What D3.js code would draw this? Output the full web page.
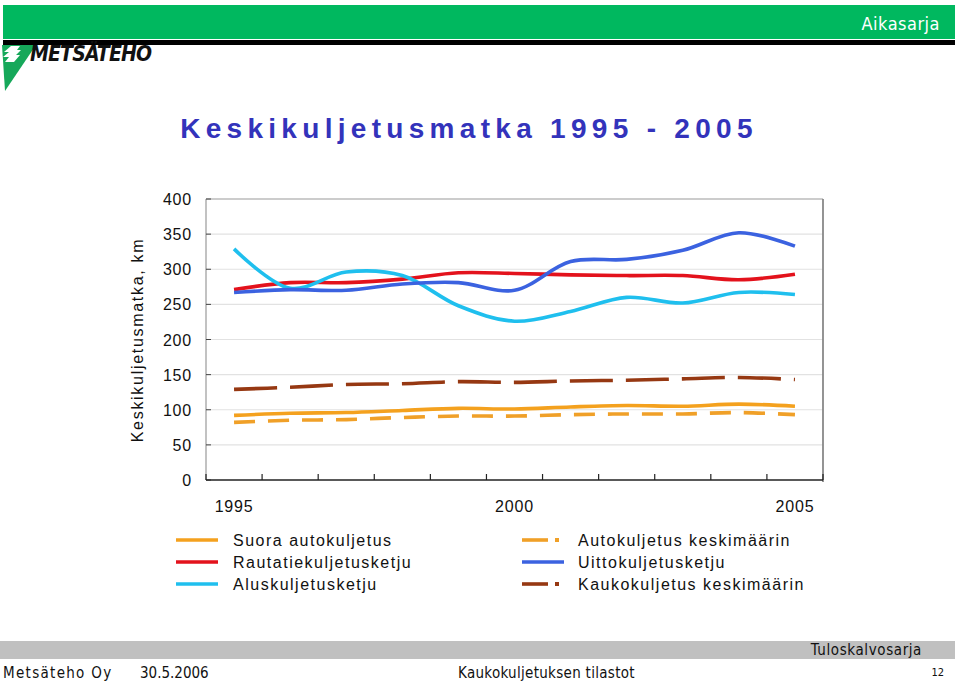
<!DOCTYPE html>
<html><head><meta charset="utf-8">
<script src="https://cdn.jsdelivr.net/npm/d3@7"></script>
<style>body{margin:0;background:#fff}svg{display:block}</style>
</head><body>
<svg id="c" width="959" height="681"></svg>
<script>
const years = ["1995","1996","1997","1998","1999","2000","2001","2002","2003","2004","2005"];
const suora    = [92, 95, 96, 99, 102, 101, 104, 106, 105, 108, 105];
const rautatie = [271, 281, 281, 286, 295, 294, 292, 291, 291, 285, 293];
const alus     = [329, 273, 296, 291, 248, 226, 240, 260, 252, 267, 264];
const autoKa   = [82, 85, 86, 89, 91, 91, 93, 94, 94, 96, 93];
const uitto    = [267, 271, 270, 279, 281, 270, 311, 314, 327, 352, 333];
const kaukoKa  = [129, 132, 136, 137, 140, 139, 141, 142, 144, 146, 143];
const yTicks = [0, 50, 100, 150, 200, 250, 300, 350, 400];
const xLabels = ["1995", "2000", "2005"];
const seriesNames = ["Suora autokuljetus","Rautatiekuljetusketju","Aluskuljetusketju",
                     "Autokuljetus keskimäärin","Uittokuljetusketju","Kaukokuljetus keskimäärin"];

const series = [
  {name: seriesNames[0], values: suora,    color: "#f4a11e", dash: null},
  {name: seriesNames[1], values: rautatie, color: "#e3121c", dash: null},
  {name: seriesNames[2], values: alus,     color: "#1fbfee", dash: null},
  {name: seriesNames[3], values: autoKa,   color: "#f0a028", dash: "21,13"},
  {name: seriesNames[4], values: uitto,    color: "#3b62e0", dash: null},
  {name: seriesNames[5], values: kaukoKa,  color: "#963812", dash: "43,13"}
];

const svg = d3.select("#c");
const narrow = "'Liberation Sans Narrow','DejaVu Sans Condensed','Liberation Sans',Arial,sans-serif";
const sans = "'Liberation Sans',Arial,sans-serif";

// Header
svg.append("rect").attr("x",3).attr("y",5).attr("width",952).attr("height",34).attr("fill","#00b85f");
svg.append("rect").attr("x",3).attr("y",40).attr("width",952).attr("height",5).attr("fill","#000");
svg.append("text").attr("x",940).attr("y",30).attr("text-anchor","end")
  .attr("font-family",narrow).attr("font-size",18).attr("letter-spacing",0.5).attr("fill","#fff").text("Aikasarja");

// Logo
svg.append("path").attr("d","M2,45 L36,45 L5,91 Z").attr("fill","#16a85a");
svg.append("path").attr("d","M11,46 L4,52 L9,52 L3,57 L9,57 L5,62 L14,62 L20,55 L16,55 L21,50 L17,50 L20,46 Z").attr("fill","#fff");
svg.append("text").attr("x",30).attr("y",61)
  .attr("font-family",narrow).attr("font-size",21).attr("font-weight","bold").attr("font-style","italic")
  .attr("letter-spacing",-0.8).attr("fill","#111").text("METSÄTEHO");

// Title
svg.append("text").attr("x",469).attr("y",138).attr("text-anchor","middle")
  .attr("font-family",sans).attr("font-size",28).attr("font-weight","bold").attr("letter-spacing",5.3)
  .attr("fill","#3333bb").text("Keskikuljetusmatka 1995 - 2005");

// Scales
const x = d3.scaleBand().domain(years).range([206, 823]).padding(0);
const y = d3.scaleLinear().domain([0, 400]).range([480, 199]);
const cx = d => x(d) + x.bandwidth()/2;

// Gridlines
svg.append("g").selectAll("line").data(yTicks.filter(t => t > 0 && t < 400)).join("line")
  .attr("x1",206).attr("x2",823).attr("y1",d=>y(d)).attr("y2",d=>y(d))
  .attr("stroke","#e2e2e2").attr("stroke-width",1.2);

// Frame
svg.append("line").attr("x1",206).attr("x2",823).attr("y1",y(400)).attr("y2",y(400)).attr("stroke","#999").attr("stroke-width",1.2);
svg.append("line").attr("x1",823).attr("x2",823).attr("y1",y(400)).attr("y2",y(0)+2).attr("stroke","#888").attr("stroke-width",1.8);
svg.append("line").attr("x1",206).attr("x2",206).attr("y1",y(400)).attr("y2",y(0)).attr("stroke","#999").attr("stroke-width",1.2);

// Y axis ticks & labels
svg.append("g").selectAll("line").data(yTicks).join("line")
  .attr("x1",206).attr("x2",211).attr("y1",d=>y(d)).attr("y2",d=>y(d)).attr("stroke","#444").attr("stroke-width",1);
svg.append("g").selectAll("text").data(yTicks).join("text")
  .attr("x",192).attr("y",d=>y(d)+6).attr("text-anchor","end")
  .attr("font-family",sans).attr("font-size",16).attr("letter-spacing",0.8).attr("fill","#111").text(d=>d);

// X axis
svg.append("line").attr("x1",206).attr("x2",823).attr("y1",y(0)).attr("y2",y(0)).attr("stroke","#222").attr("stroke-width",1.6);
const edges = years.map(d => x(d)).concat([x(years[years.length-1]) + x.bandwidth()]);
svg.append("g").selectAll("line").data(edges).join("line")
  .attr("x1",d=>d).attr("x2",d=>d).attr("y1",y(0)).attr("y2",y(0)-6).attr("stroke","#222").attr("stroke-width",1.2);
svg.append("g").selectAll("text").data(xLabels).join("text")
  .attr("x",d=>cx(d)).attr("y",512).attr("text-anchor","middle")
  .attr("font-family",sans).attr("font-size",16).attr("letter-spacing",0.8).attr("fill","#111").text(d=>d);

// Y axis title
svg.append("text").attr("transform","translate(143,340) rotate(-90)").attr("text-anchor","middle")
  .attr("font-family",sans).attr("font-size",16).attr("letter-spacing",1.7).attr("fill","#111")
  .text("Keskikuljetusmatka, km");

// Lines
const line = d3.line().x((v,i)=>cx(years[i])).y(v=>y(v)).curve(d3.curveCatmullRom.alpha(0.5));
svg.append("g").selectAll("path").data(series).join("path")
  .attr("d",s=>line(s.values)).attr("fill","none").attr("stroke",s=>s.color)
  .attr("stroke-width",3.6).attr("stroke-dasharray",s=>s.dash);

// Legend
const leg = svg.append("g");
series.forEach((s,i)=>{
  const col = Math.floor(i/3), row = i%3;
  const lx = col === 0 ? 176 : 522;
  const ly = 540 + row*22;
  if (s.dash) {
    leg.append("line").attr("x1",lx).attr("x2",lx+26).attr("y1",ly).attr("y2",ly).attr("stroke",s.color).attr("stroke-width",3.6);
    leg.append("rect").attr("x",lx+33).attr("y",ly-2).attr("width",4).attr("height",4).attr("fill",s.color);
  } else {
    leg.append("line").attr("x1",lx).attr("x2",lx+42).attr("y1",ly).attr("y2",ly).attr("stroke",s.color).attr("stroke-width",3.6);
  }
  leg.append("text").attr("x",col===0?233:578).attr("y",ly+6)
    .attr("font-family",sans).attr("font-size",16).attr("letter-spacing",1.5).attr("fill","#111").text(s.name);
});

// Footer
svg.append("rect").attr("x",0).attr("y",641).attr("width",955).attr("height",18).attr("fill","#c0c0c0");
svg.append("text").attr("x",922).attr("y",655).attr("text-anchor","end")
  .attr("font-family",narrow).attr("font-size",15).attr("letter-spacing",0.6).attr("fill","#111").text("Tuloskalvosarja");
svg.append("text").attr("x",3).attr("y",678).attr("font-family",narrow).attr("font-size",15).attr("letter-spacing",1.3).attr("fill","#111").text("Metsäteho Oy");
svg.append("text").attr("x",140).attr("y",678).attr("font-family",narrow).attr("font-size",15).attr("letter-spacing",0).attr("fill","#111").text("30.5.2006");
svg.append("text").attr("x",458).attr("y",678).attr("font-family",narrow).attr("font-size",15).attr("letter-spacing",0.3).attr("fill","#111").text("Kaukokuljetuksen tilastot");
svg.append("text").attr("x",944).attr("y",676).attr("text-anchor","end").attr("font-family",narrow).attr("font-size",11).attr("fill","#111").text("12");
</script>
</body></html>
